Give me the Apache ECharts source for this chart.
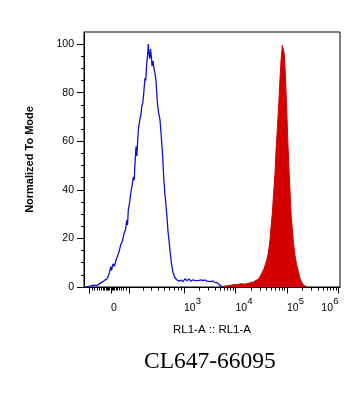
<!DOCTYPE html>
<html><head><meta charset="utf-8">
<script src="https://cdn.jsdelivr.net/npm/echarts@6/dist/echarts.min.js"></script>
<style>html,body{margin:0;padding:0;background:#fff}#c{width:361px;height:401px}</style>
</head><body><div id="c"></div>
<script>
// x positions are in display (decade) units of the biexponential axis
var blueX = [1.091,1.155,1.252,1.311,1.369,1.427,1.466,1.505,1.530,1.553,1.577,1.592,1.621,1.650,1.680,1.705,1.738,1.771,1.806,1.835,1.864,1.887,1.903,1.918,1.942,1.965,1.990,2.016,2.033,2.049,2.068,2.084,2.113,2.146,2.165,2.179,2.198,2.214,2.243,2.258,2.276,2.291,2.307,2.320,2.334,2.350,2.365,2.379,2.398,2.417,2.437,2.456,2.482,2.505,2.534,2.559,2.586,2.606,2.631,2.664,2.689,2.728,2.757,2.786,2.825,2.864,2.903,2.942,2.981,3.019,3.058,3.097,3.136,3.175,3.214,3.252,3.291,3.330,3.369,3.408,3.447,3.485,3.524,3.563,3.602,3.641,3.680,3.718,3.757];
var blueY = [0,0.3,0.8,0.6,1.5,2.2,2.9,3.3,4.5,6.0,8.4,6.8,9.5,8.6,11,12.5,14.5,17.3,19,22,23.5,27.5,25.5,31.7,34.5,38.5,41.5,45.4,44,51,57.8,54,64.7,69.5,71,74.3,75.6,79,86,85,92,95,100,96,94,98,95,91,93,90,88,85,76,72,68.8,62,53.7,45,38,30.3,23,15,9.5,6,3.8,2.9,2.4,2.9,2.2,3.4,2.6,3.3,2.4,3.0,2.6,3.4,2.7,2.9,2.6,2.9,2.4,2.7,2.2,2.5,1.8,1.9,1.0,0.6,0];
var redX = [3.732,3.796,3.874,3.951,4.029,4.107,4.184,4.262,4.340,4.412,4.456,4.509,4.553,4.606,4.637,4.670,4.695,4.715,4.738,4.767,4.786,4.819,4.841,4.864,4.883,4.909,4.928,4.948,4.967,4.990,5.014,5.039,5.058,5.082,5.103,5.126,5.155,5.188,5.219,5.252,5.285,5.320,5.350,5.388];
var redY = [0,0.4,0.6,0.9,1.0,1.3,1.2,1.6,2.0,2.9,3.5,5.6,7.5,11,14,19.3,26,30.3,38,46.8,56,67.4,76,86,93,99.5,100,96,88,76,61,48,40,29,24,18,13,9,6.5,3.5,2,0.8,0.2,0];

var xLabelPos = [1.583, 3, 4, 5, 6];
var xLabelBase = ['0', '10', '10', '10', '10'];
var xLabelExp = ['', '3', '4', '5', '6'];
var xMajorTicks = [1.161, 1.583, 1.938, 3, 4, 5, 6];
var xMinorTicks = [1.214,1.262,1.311,1.355,1.394,1.427,1.460,1.485,1.511,1.530,1.550,
  1.616,1.635,1.654,1.680,1.705,1.738,1.777,1.821,1.874,
  2.204,2.369,2.505,2.621,2.718,2.806,2.880,2.942];
[3,4,5].forEach(function(n){ for (var k=2;k<=9;k++) xMinorTicks.push(n+Math.log10(k)); });
var yMajorTicks = [0,20,40,60,80,100];
var yMinorTicks = [5,10,15,25,30,35,45,50,55,65,70,75,85,90,95];

var xMin = 1.058, xMax = 6.029, yMin = 0, yMax = 105;

function zip(a,b){ return a.map(function(v,i){ return [v,b[i]]; }); }

var chart = echarts.init(document.getElementById('c'), null, {renderer:'canvas'});
var axisFont = 'Liberation Sans, Arial, sans-serif';
chart.setOption({
  animation: false,
  title: {
    text: 'CL647-66095', left: 144, top: 350, padding: 0,
    textStyle: {fontFamily: 'Liberation Serif, Times New Roman, serif', fontSize: 23.5, fontWeight: 'normal', color: '#000'}
  },
  grid: {left: 84, right: 21, top: 32, bottom: 114, show: true, borderColor: '#000', borderWidth: 1, backgroundColor: 'transparent'},
  xAxis: [{
    type: 'value', min: xMin, max: xMax,
    name: 'RL1-A :: RL1-A', nameLocation: 'middle', nameGap: 37,
    nameTextStyle: {fontFamily: axisFont, fontSize: 11.5, color: '#000'},
    axisLine: {show: true, lineStyle: {color: '#000', width: 1}},
    splitLine: {show: false},
    axisTick: {show: true, length: 6.5, lineStyle: {color: '#000', width: 1}, customValues: xMajorTicks},
    axisLabel: {
      show: true, margin: 13, align: 'left', alignMaxLabel: 'right', customValues: xLabelPos,
      fontFamily: axisFont, color: '#000',
      formatter: function(v){
        var i = 0, best = 1e9;
        xLabelPos.forEach(function(p,j){ var d=Math.abs(p-v); if(d<best){best=d;i=j;} });
        return xLabelExp[i] ? '{s|' + xLabelExp[i] + '}\n{b|' + xLabelBase[i] + '}' : '{s| }\n{z|' + xLabelBase[i] + '}';
      },
      rich: {
        b: {fontFamily: axisFont, fontSize: 10.5, lineHeight: 11, padding: [0,5.5,0,0], color: '#000'},
        z: {fontFamily: axisFont, fontSize: 10.5, lineHeight: 11, color: '#000'},
        s: {fontFamily: axisFont, fontSize: 9.5, lineHeight: 3, padding: [0,0,0,11.7], color: '#000'}
      }
    }
  }, {
    type: 'value', min: xMin, max: xMax, position: 'bottom',
    axisLine: {show: false}, splitLine: {show: false}, axisLabel: {show: false},
    axisTick: {show: true, length: 3.5, lineStyle: {color: '#000', width: 1}, customValues: xMinorTicks}
  }],
  yAxis: [{
    type: 'value', min: yMin, max: yMax,
    name: 'Normalized To Mode', nameLocation: 'middle', nameGap: 49, nameRotate: 90,
    nameTextStyle: {fontFamily: axisFont, fontSize: 11, fontWeight: 'bold', color: '#000'},
    axisLine: {show: true, lineStyle: {color: '#000', width: 1}},
    splitLine: {show: false},
    axisTick: {show: true, length: 7, lineStyle: {color: '#000', width: 1}, customValues: yMajorTicks},
    axisLabel: {show: true, margin: 10, customValues: yMajorTicks, fontFamily: axisFont, fontSize: 10.5, color: '#000'}
  }, {
    type: 'value', min: yMin, max: yMax, position: 'left',
    axisLine: {show: false}, splitLine: {show: false}, axisLabel: {show: false},
    axisTick: {show: true, length: 3, lineStyle: {color: '#000', width: 1}, customValues: yMinorTicks}
  }],
  series: [{
    name: 'stained', type: 'line', xAxisIndex: 0, yAxisIndex: 0,
    data: zip(redX, redY), showSymbol: false, symbol: 'none', z: 2,
    lineStyle: {color: '#d40000', width: 1},
    areaStyle: {color: '#d40000', opacity: 1}
  }, {
    name: 'control', type: 'line', xAxisIndex: 0, yAxisIndex: 0,
    data: zip(blueX, blueY), showSymbol: false, symbol: 'none', z: 3,
    lineStyle: {color: '#1010d8', width: 1.3}
  }]
});
</script>
</body></html>
